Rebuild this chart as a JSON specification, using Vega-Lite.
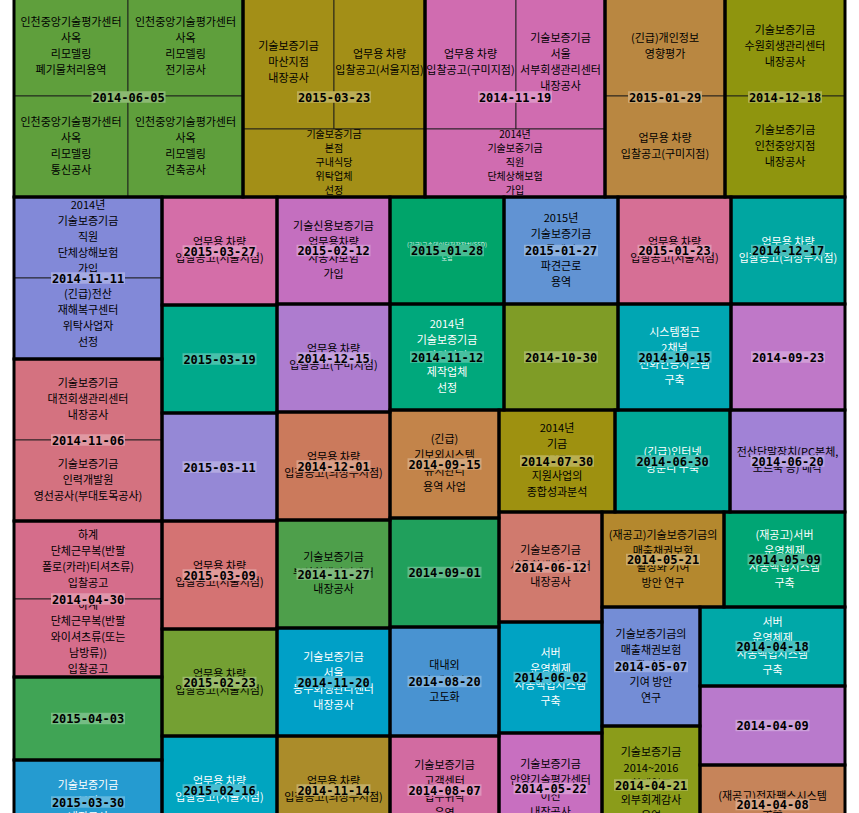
{
  "$schema": "https://vega.github.io/schema/vega-lite/v6.json",
  "width": 859,
  "height": 813,
  "padding": 0,
  "autosize": {"type": "none"},
  "background": "white",
  "config": {"view": {"stroke": null}},
  "datasets": {
    "groups": [
      {"date": "2014-06-05", "x0": 14, "x1": 243, "y0": -3, "y1": 197},
      {"date": "2015-03-23", "x0": 243, "x1": 425, "y0": -3, "y1": 197},
      {"date": "2014-11-19", "x0": 425, "x1": 605, "y0": -3, "y1": 197},
      {"date": "2015-01-29", "x0": 605, "x1": 725, "y0": -3, "y1": 197},
      {"date": "2014-12-18", "x0": 725, "x1": 845, "y0": -3, "y1": 197},
      {"date": "2014-11-11", "x0": 14, "x1": 162, "y0": 197, "y1": 359},
      {"date": "2014-11-06", "x0": 14, "x1": 162, "y0": 359, "y1": 521},
      {"date": "2014-04-30", "x0": 14, "x1": 162, "y0": 521, "y1": 677},
      {"date": "2015-04-03", "x0": 14, "x1": 162, "y0": 677, "y1": 760},
      {"date": "2015-03-30", "x0": 14, "x1": 162, "y0": 760, "y1": 844},
      {"date": "2015-03-27", "x0": 162, "x1": 277, "y0": 197, "y1": 305},
      {"date": "2015-03-19", "x0": 162, "x1": 277, "y0": 305, "y1": 413},
      {"date": "2015-03-11", "x0": 162, "x1": 277, "y0": 413, "y1": 521},
      {"date": "2015-03-09", "x0": 162, "x1": 277, "y0": 521, "y1": 629},
      {"date": "2015-02-23", "x0": 162, "x1": 277, "y0": 629, "y1": 736},
      {"date": "2015-02-16", "x0": 162, "x1": 277, "y0": 736, "y1": 844},
      {"date": "2015-02-12", "x0": 277, "x1": 390, "y0": 197, "y1": 304},
      {"date": "2014-12-15", "x0": 277, "x1": 390, "y0": 304, "y1": 412},
      {"date": "2014-12-01", "x0": 277, "x1": 390, "y0": 412, "y1": 520},
      {"date": "2014-11-27", "x0": 277, "x1": 390, "y0": 520, "y1": 628},
      {"date": "2014-11-20", "x0": 277, "x1": 390, "y0": 628, "y1": 736},
      {"date": "2014-11-14", "x0": 277, "x1": 390, "y0": 736, "y1": 844},
      {"date": "2015-01-28", "x0": 390, "x1": 504, "y0": 197, "y1": 304},
      {"date": "2014-11-12", "x0": 390, "x1": 504, "y0": 304, "y1": 410},
      {"date": "2015-01-27", "x0": 504, "x1": 618, "y0": 197, "y1": 304},
      {"date": "2014-10-30", "x0": 504, "x1": 618, "y0": 304, "y1": 410},
      {"date": "2015-01-23", "x0": 618, "x1": 731, "y0": 197, "y1": 304},
      {"date": "2014-10-15", "x0": 618, "x1": 731, "y0": 304, "y1": 410},
      {"date": "2014-12-17", "x0": 731, "x1": 845, "y0": 197, "y1": 304},
      {"date": "2014-09-23", "x0": 731, "x1": 845, "y0": 304, "y1": 410},
      {"date": "2014-09-15", "x0": 390, "x1": 499, "y0": 410, "y1": 518},
      {"date": "2014-09-01", "x0": 390, "x1": 499, "y0": 518, "y1": 627},
      {"date": "2014-08-20", "x0": 390, "x1": 499, "y0": 627, "y1": 736},
      {"date": "2014-08-07", "x0": 390, "x1": 499, "y0": 736, "y1": 844},
      {"date": "2014-07-30", "x0": 499, "x1": 615, "y0": 410, "y1": 512},
      {"date": "2014-06-30", "x0": 615, "x1": 730, "y0": 410, "y1": 512},
      {"date": "2014-06-20", "x0": 730, "x1": 845, "y0": 410, "y1": 512},
      {"date": "2014-06-12", "x0": 499, "x1": 602, "y0": 512, "y1": 622},
      {"date": "2014-06-02", "x0": 499, "x1": 602, "y0": 622, "y1": 733},
      {"date": "2014-05-22", "x0": 499, "x1": 602, "y0": 733, "y1": 844},
      {"date": "2014-05-21", "x0": 602, "x1": 724, "y0": 512, "y1": 607},
      {"date": "2014-05-09", "x0": 724, "x1": 845, "y0": 512, "y1": 607},
      {"date": "2014-05-07", "x0": 602, "x1": 700, "y0": 607, "y1": 726},
      {"date": "2014-04-21", "x0": 602, "x1": 700, "y0": 726, "y1": 844},
      {"date": "2014-04-18", "x0": 700, "x1": 845, "y0": 607, "y1": 686},
      {"date": "2014-04-09", "x0": 700, "x1": 845, "y0": 686, "y1": 765},
      {"date": "2014-04-08", "x0": 700, "x1": 845, "y0": 765, "y1": 844}
    ],
    "cells": [
      {"date": "2014-06-05", "x0": 14, "x1": 128, "y0": -3, "y1": 96, "label": "인천중앙기술평가센터\n사옥\n리모델링\n폐기물처리용역"},
      {"date": "2014-06-05", "x0": 128, "x1": 243, "y0": -3, "y1": 96, "label": "인천중앙기술평가센터\n사옥\n리모델링\n전기공사"},
      {"date": "2014-06-05", "x0": 14, "x1": 128, "y0": 96, "y1": 197, "label": "인천중앙기술평가센터\n사옥\n리모델링\n통신공사"},
      {"date": "2014-06-05", "x0": 128, "x1": 243, "y0": 96, "y1": 197, "label": "인천중앙기술평가센터\n사옥\n리모델링\n건축공사"},
      {"date": "2015-03-23", "x0": 243, "x1": 334, "y0": -3, "y1": 129, "label": "기술보증기금\n마산지점\n내장공사"},
      {"date": "2015-03-23", "x0": 334, "x1": 425, "y0": -3, "y1": 129, "label": "업무용 차량\n입찰공고(서울지점)"},
      {"date": "2015-03-23", "x0": 243, "x1": 425, "y0": 129, "y1": 197, "label": "기술보증기금\n본점\n구내식당\n위탁업체\n선정"},
      {"date": "2014-11-19", "x0": 425, "x1": 516, "y0": -3, "y1": 129, "label": "업무용 차량\n입찰공고(구미지점)"},
      {"date": "2014-11-19", "x0": 516, "x1": 605, "y0": -3, "y1": 129, "label": "기술보증기금\n서울\n서부회생관리센터\n내장공사"},
      {"date": "2014-11-19", "x0": 425, "x1": 605, "y0": 129, "y1": 197, "label": "2014년\n기술보증기금\n직원\n단체상해보험\n가입"},
      {"date": "2015-01-29", "x0": 605, "x1": 725, "y0": -3, "y1": 96, "label": "(긴급)개인정보\n영향평가"},
      {"date": "2015-01-29", "x0": 605, "x1": 725, "y0": 96, "y1": 197, "label": "업무용 차량\n입찰공고(구미지점)"},
      {"date": "2014-12-18", "x0": 725, "x1": 845, "y0": -3, "y1": 96, "label": "기술보증기금\n수원회생관리센터\n내장공사"},
      {"date": "2014-12-18", "x0": 725, "x1": 845, "y0": 96, "y1": 197, "label": "기술보증기금\n인천중앙지점\n내장공사"},
      {"date": "2014-11-11", "x0": 14, "x1": 162, "y0": 197, "y1": 278, "label": "2014년\n기술보증기금\n직원\n단체상해보험\n가입"},
      {"date": "2014-11-11", "x0": 14, "x1": 162, "y0": 278, "y1": 359, "label": "(긴급)전산\n재해복구센터\n위탁사업자\n선정"},
      {"date": "2014-11-06", "x0": 14, "x1": 162, "y0": 359, "y1": 440, "label": "기술보증기금\n대전회생관리센터\n내장공사"},
      {"date": "2014-11-06", "x0": 14, "x1": 162, "y0": 440, "y1": 521, "label": "기술보증기금\n인력개발원\n영선공사(부대토목공사)"},
      {"date": "2014-04-30", "x0": 14, "x1": 162, "y0": 521, "y1": 599, "label": "하계\n단체근무복(반팔\n폴로(카라)티셔츠류)\n입찰공고"},
      {"date": "2014-04-30", "x0": 14, "x1": 162, "y0": 599, "y1": 677, "label": "하계\n단체근무복(반팔\n와이셔츠류(또는\n남방류))\n입찰공고"},
      {"date": "2015-04-03", "x0": 14, "x1": 162, "y0": 677, "y1": 760, "label": ""},
      {"date": "2015-03-30", "x0": 14, "x1": 162, "y0": 760, "y1": 844, "label": "기술보증기금\n본점\n내장공사"},
      {"date": "2015-03-27", "x0": 162, "x1": 277, "y0": 197, "y1": 305, "label": "업무용 차량\n입찰공고(서울지점)"},
      {"date": "2015-03-19", "x0": 162, "x1": 277, "y0": 305, "y1": 413, "label": ""},
      {"date": "2015-03-11", "x0": 162, "x1": 277, "y0": 413, "y1": 521, "label": ""},
      {"date": "2015-03-09", "x0": 162, "x1": 277, "y0": 521, "y1": 629, "label": "업무용 차량\n입찰공고(서울지점)"},
      {"date": "2015-02-23", "x0": 162, "x1": 277, "y0": 629, "y1": 736, "label": "업무용 차량\n입찰공고(서울지점)"},
      {"date": "2015-02-16", "x0": 162, "x1": 277, "y0": 736, "y1": 844, "label": "업무용 차량\n입찰공고(서울지점)"},
      {"date": "2015-02-12", "x0": 277, "x1": 390, "y0": 197, "y1": 304, "label": "기술신용보증기금\n업무용차량\n자동차보험\n가입"},
      {"date": "2014-12-15", "x0": 277, "x1": 390, "y0": 304, "y1": 412, "label": "업무용 차량\n입찰공고(구미지점)"},
      {"date": "2014-12-01", "x0": 277, "x1": 390, "y0": 412, "y1": 520, "label": "업무용 차량\n입찰공고(의정부지점)"},
      {"date": "2014-11-27", "x0": 277, "x1": 390, "y0": 520, "y1": 628, "label": "기술보증기금\n부산회생관리센터\n내장공사"},
      {"date": "2014-11-20", "x0": 277, "x1": 390, "y0": 628, "y1": 736, "label": "기술보증기금\n서울\n동부회생관리센터\n내장공사"},
      {"date": "2014-11-14", "x0": 277, "x1": 390, "y0": 736, "y1": 844, "label": "업무용 차량\n입찰공고(의정부지점)"},
      {"date": "2015-01-28", "x0": 390, "x1": 504, "y0": 197, "y1": 304, "label": "(긴급)고속데이터저장장치(SSD)\n도입"},
      {"date": "2014-11-12", "x0": 390, "x1": 504, "y0": 304, "y1": 410, "label": "2014년\n기술보증기금\n다이어리\n제작업체\n선정"},
      {"date": "2015-01-27", "x0": 504, "x1": 618, "y0": 197, "y1": 304, "label": "2015년\n기술보증기금\n콜센터\n파견근로\n용역"},
      {"date": "2014-10-30", "x0": 504, "x1": 618, "y0": 304, "y1": 410, "label": ""},
      {"date": "2015-01-23", "x0": 618, "x1": 731, "y0": 197, "y1": 304, "label": "업무용 차량\n입찰공고(서울지점)"},
      {"date": "2014-10-15", "x0": 618, "x1": 731, "y0": 304, "y1": 410, "label": "시스템접근\n2채널\n전화인증시스템\n구축"},
      {"date": "2014-12-17", "x0": 731, "x1": 845, "y0": 197, "y1": 304, "label": "업무용 차량\n입찰공고(의정부지점)"},
      {"date": "2014-09-23", "x0": 731, "x1": 845, "y0": 304, "y1": 410, "label": ""},
      {"date": "2014-09-15", "x0": 390, "x1": 499, "y0": 410, "y1": 518, "label": "(긴급)\n기보외시스템\n유지관리\n용역 사업"},
      {"date": "2014-09-01", "x0": 390, "x1": 499, "y0": 518, "y1": 627, "label": ""},
      {"date": "2014-08-20", "x0": 390, "x1": 499, "y0": 627, "y1": 736, "label": "대내외\n홈페이지\n고도화"},
      {"date": "2014-08-07", "x0": 390, "x1": 499, "y0": 736, "y1": 844, "label": "기술보증기금\n고객센터\n업무위탁\n운영"},
      {"date": "2014-07-30", "x0": 499, "x1": 615, "y0": 410, "y1": 512, "label": "2014년\n기금\n보증\n지원사업의\n종합성과분석"},
      {"date": "2014-06-30", "x0": 615, "x1": 730, "y0": 410, "y1": 512, "label": "(긴급)인터넷\n망분리 구축"},
      {"date": "2014-06-20", "x0": 730, "x1": 845, "y0": 410, "y1": 512, "label": "전산단말장치(PC본체,\n노트북 등) 매각"},
      {"date": "2014-06-12", "x0": 499, "x1": 602, "y0": 512, "y1": 622, "label": "기술보증기금\n서울회생관리센터\n내장공사"},
      {"date": "2014-06-02", "x0": 499, "x1": 602, "y0": 622, "y1": 733, "label": "서버\n운영체제\n자동백업시스템\n구축"},
      {"date": "2014-05-22", "x0": 499, "x1": 602, "y0": 733, "y1": 844, "label": "기술보증기금\n안양기술평가센터\n이전\n내장공사"},
      {"date": "2014-05-21", "x0": 602, "x1": 724, "y0": 512, "y1": 607, "label": "(재공고)기술보증기금의\n매출채권보험\n활성화 기여\n방안 연구"},
      {"date": "2014-05-09", "x0": 724, "x1": 845, "y0": 512, "y1": 607, "label": "(재공고)서버\n운영체제\n자동백업시스템\n구축"},
      {"date": "2014-05-07", "x0": 602, "x1": 700, "y0": 607, "y1": 726, "label": "기술보증기금의\n매출채권보험\n활성화\n기여 방안\n연구"},
      {"date": "2014-04-21", "x0": 602, "x1": 700, "y0": 726, "y1": 844, "label": "기술보증기금\n2014~2016\n회계연도\n외부회계감사\n용역"},
      {"date": "2014-04-18", "x0": 700, "x1": 845, "y0": 607, "y1": 686, "label": "서버\n운영체제\n자동백업시스템\n구축"},
      {"date": "2014-04-09", "x0": 700, "x1": 845, "y0": 686, "y1": 765, "label": ""},
      {"date": "2014-04-08", "x0": 700, "x1": 845, "y0": 765, "y1": 844, "label": "(재공고)전자팩스시스템\n구축"}
    ]
  },
  "layer": [
    {
      "data": {"name": "cells"},
      "mark": {"type": "rect", "stroke": "#1a1a1a", "strokeWidth": 1, "strokeOpacity": 0.85},
      "encoding": {
        "x": {"field": "x0", "type": "quantitative", "scale": {"domain": [0, 859], "nice": false, "zero": false}, "axis": null},
        "x2": {"field": "x1"},
        "y": {"field": "y0", "type": "quantitative", "scale": {"domain": [0, 813], "nice": false, "zero": false, "reverse": true}, "axis": null},
        "y2": {"field": "y1"},
        "color": {
          "field": "date", "type": "nominal", "legend": null,
          "scale": {
            "domain": ["2014-06-05","2015-03-23","2014-11-19","2015-01-29","2014-12-18","2014-11-11","2014-11-06","2014-04-30","2015-04-03","2015-03-30","2015-03-27","2015-03-19","2015-03-11","2015-03-09","2015-02-23","2015-02-16","2015-02-12","2014-12-15","2014-12-01","2014-11-27","2014-11-20","2014-11-14","2015-01-28","2014-11-12","2015-01-27","2014-10-30","2015-01-23","2014-10-15","2014-12-17","2014-09-23","2014-09-15","2014-09-01","2014-08-20","2014-08-07","2014-07-30","2014-06-30","2014-06-20","2014-06-12","2014-06-02","2014-05-22","2014-05-21","2014-05-09","2014-05-07","2014-04-21","2014-04-18","2014-04-09","2014-04-08"],
            "range": ["#5f9f3c","#a38f17","#d06cb0","#b98741","#8f950e","#8289d8","#d47280","#d56d8b","#40a455","#259bd0","#d46ea8","#00a98b","#9588d6","#d47373","#74a033","#00a5c0","#c46fbf","#ae7ccf","#cb7a5c","#4e9f4b","#00a0c7","#ab8c2a","#00a46a","#00a87c","#6193d3","#7f9c26","#d66f95","#00a6b3","#00a6a1","#bf78c8","#c3844a","#20a05c","#4993d1","#d26ba1","#9e9110","#00a898","#a182d6","#d07a6e","#00a3c3","#c86fc0","#b4882e","#00a574","#748dd6","#8b9c1a","#00a8a8","#b97acc","#c6845a"]
          }
        }
      }
    },
    {
      "data": {"name": "groups"},
      "mark": {"type": "rect", "fillOpacity": 0, "stroke": "black", "strokeWidth": 3},
      "encoding": {
        "x": {"field": "x0", "type": "quantitative", "scale": {"domain": [0, 859], "nice": false, "zero": false}, "axis": null},
        "x2": {"field": "x1"},
        "y": {"field": "y0", "type": "quantitative", "scale": {"domain": [0, 813], "nice": false, "zero": false, "reverse": true}, "axis": null},
        "y2": {"field": "y1"}
      }
    },
    {
      "data": {"name": "cells"},
      "transform": [
        {"filter": "datum.date != '2015-01-28' && (datum.y1 - datum.y0) >= 70 && length(split(datum.label, '\\n')) == 2"},
        {"fold": ["x0", "x1"], "as": ["xk", "xv"]},
        {"fold": ["y0", "y1"], "as": ["yk", "yv"]}
      ],
      "mark": {"type": "text", "font": "Noto Sans CJK KR", "fontSize": 11, "lineHeight": 16, "lineBreak": "\n", "align": "center", "baseline": "middle", "dy": -8},
      "encoding": {
        "x": {"aggregate": "mean", "field": "xv", "type": "quantitative", "scale": {"domain": [0, 859], "nice": false, "zero": false}, "axis": null},
        "y": {"aggregate": "mean", "field": "yv", "type": "quantitative", "scale": {"domain": [0, 813], "nice": false, "zero": false, "reverse": true}, "axis": null},
        "detail": {"field": "date", "type": "nominal"},
        "text": {"field": "label", "type": "nominal"},
        "color": {
          "condition": {"test": "indexof(['2014-11-12','2014-10-15','2014-12-17','2014-06-30','2014-05-09','2014-04-18','2014-06-02','2014-11-20','2015-02-16','2015-03-30'], datum.date) >= 0", "value": "white"},
          "value": "black"
        }
      }
    },
    {
      "data": {"name": "cells"},
      "transform": [
        {"filter": "datum.date != '2015-01-28' && (datum.y1 - datum.y0) >= 70 && length(split(datum.label, '\\n')) == 3"},
        {"fold": ["x0", "x1"], "as": ["xk", "xv"]},
        {"fold": ["y0", "y1"], "as": ["yk", "yv"]}
      ],
      "mark": {"type": "text", "font": "Noto Sans CJK KR", "fontSize": 11, "lineHeight": 16, "lineBreak": "\n", "align": "center", "baseline": "middle", "dy": -16},
      "encoding": {
        "x": {"aggregate": "mean", "field": "xv", "type": "quantitative", "scale": {"domain": [0, 859], "nice": false, "zero": false}, "axis": null},
        "y": {"aggregate": "mean", "field": "yv", "type": "quantitative", "scale": {"domain": [0, 813], "nice": false, "zero": false, "reverse": true}, "axis": null},
        "detail": {"field": "date", "type": "nominal"},
        "text": {"field": "label", "type": "nominal"},
        "color": {
          "condition": {"test": "indexof(['2014-11-12','2014-10-15','2014-12-17','2014-06-30','2014-05-09','2014-04-18','2014-06-02','2014-11-20','2015-02-16','2015-03-30'], datum.date) >= 0", "value": "white"},
          "value": "black"
        }
      }
    },
    {
      "data": {"name": "cells"},
      "transform": [
        {"filter": "datum.date != '2015-01-28' && (datum.y1 - datum.y0) >= 70 && length(split(datum.label, '\\n')) == 4"},
        {"fold": ["x0", "x1"], "as": ["xk", "xv"]},
        {"fold": ["y0", "y1"], "as": ["yk", "yv"]}
      ],
      "mark": {"type": "text", "font": "Noto Sans CJK KR", "fontSize": 11, "lineHeight": 16, "lineBreak": "\n", "align": "center", "baseline": "middle", "dy": -24},
      "encoding": {
        "x": {"aggregate": "mean", "field": "xv", "type": "quantitative", "scale": {"domain": [0, 859], "nice": false, "zero": false}, "axis": null},
        "y": {"aggregate": "mean", "field": "yv", "type": "quantitative", "scale": {"domain": [0, 813], "nice": false, "zero": false, "reverse": true}, "axis": null},
        "detail": {"field": "date", "type": "nominal"},
        "text": {"field": "label", "type": "nominal"},
        "color": {
          "condition": {"test": "indexof(['2014-11-12','2014-10-15','2014-12-17','2014-06-30','2014-05-09','2014-04-18','2014-06-02','2014-11-20','2015-02-16','2015-03-30'], datum.date) >= 0", "value": "white"},
          "value": "black"
        }
      }
    },
    {
      "data": {"name": "cells"},
      "transform": [
        {"filter": "datum.date != '2015-01-28' && (datum.y1 - datum.y0) >= 70 && length(split(datum.label, '\\n')) == 5"},
        {"fold": ["x0", "x1"], "as": ["xk", "xv"]},
        {"fold": ["y0", "y1"], "as": ["yk", "yv"]}
      ],
      "mark": {"type": "text", "font": "Noto Sans CJK KR", "fontSize": 11, "lineHeight": 16, "lineBreak": "\n", "align": "center", "baseline": "middle", "dy": -32},
      "encoding": {
        "x": {"aggregate": "mean", "field": "xv", "type": "quantitative", "scale": {"domain": [0, 859], "nice": false, "zero": false}, "axis": null},
        "y": {"aggregate": "mean", "field": "yv", "type": "quantitative", "scale": {"domain": [0, 813], "nice": false, "zero": false, "reverse": true}, "axis": null},
        "detail": {"field": "date", "type": "nominal"},
        "text": {"field": "label", "type": "nominal"},
        "color": {
          "condition": {"test": "indexof(['2014-11-12','2014-10-15','2014-12-17','2014-06-30','2014-05-09','2014-04-18','2014-06-02','2014-11-20','2015-02-16','2015-03-30'], datum.date) >= 0", "value": "white"},
          "value": "black"
        }
      }
    },
    {
      "data": {"name": "cells"},
      "transform": [
        {"filter": "datum.date != '2015-01-28' && (datum.y1 - datum.y0) < 70"},
        {"fold": ["x0", "x1"], "as": ["xk", "xv"]},
        {"fold": ["y0", "y1"], "as": ["yk", "yv"]}
      ],
      "mark": {"type": "text", "font": "Noto Sans CJK KR", "fontSize": 10, "lineHeight": 14, "lineBreak": "\n", "align": "center", "baseline": "middle", "color": "black", "dy": -28},
      "encoding": {
        "x": {"aggregate": "mean", "field": "xv", "type": "quantitative", "scale": {"domain": [0, 859], "nice": false, "zero": false}, "axis": null},
        "y": {"aggregate": "mean", "field": "yv", "type": "quantitative", "scale": {"domain": [0, 813], "nice": false, "zero": false, "reverse": true}, "axis": null},
        "detail": {"field": "date", "type": "nominal"},
        "text": {"field": "label", "type": "nominal"}
      }
    },
    {
      "data": {"name": "cells"},
      "transform": [
        {"filter": "datum.date == '2015-01-28'"},
        {"fold": ["x0", "x1"], "as": ["xk", "xv"]},
        {"fold": ["y0", "y1"], "as": ["yk", "yv"]}
      ],
      "mark": {"type": "text", "font": "Noto Sans CJK KR", "fontSize": 6, "lineHeight": 13, "lineBreak": "\n", "align": "center", "baseline": "middle", "color": "white", "opacity": 0.85, "dy": -6},
      "encoding": {
        "x": {"aggregate": "mean", "field": "xv", "type": "quantitative", "scale": {"domain": [0, 859], "nice": false, "zero": false}, "axis": null},
        "y": {"aggregate": "mean", "field": "yv", "type": "quantitative", "scale": {"domain": [0, 813], "nice": false, "zero": false, "reverse": true}, "axis": null},
        "detail": {"field": "date", "type": "nominal"},
        "text": {"field": "label", "type": "nominal"}
      }
    },
    {
      "data": {"name": "groups"},
      "transform": [
        {"fold": ["x0", "x1"], "as": ["xk", "xv"]},
        {"fold": ["y0", "y1"], "as": ["yk", "yv"]}
      ],
      "mark": {"type": "point", "shape": "M-1,-0.155H1V0.155H-1Z", "filled": true, "size": 5476, "opacity": 1, "strokeWidth": 0},
      "encoding": {
        "x": {"aggregate": "mean", "field": "xv", "type": "quantitative", "scale": {"domain": [0, 859], "nice": false, "zero": false}, "axis": null},
        "y": {"aggregate": "mean", "field": "yv", "type": "quantitative", "scale": {"domain": [0, 813], "nice": false, "zero": false, "reverse": true}, "axis": null},
        "color": {"field": "date", "type": "nominal", "legend": null}
      }
    },
    {
      "data": {"name": "groups"},
      "transform": [
        {"fold": ["x0", "x1"], "as": ["xk", "xv"]},
        {"fold": ["y0", "y1"], "as": ["yk", "yv"]}
      ],
      "mark": {"type": "point", "shape": "M-1,-0.155H1V0.155H-1Z", "filled": true, "size": 5476, "opacity": 0.28, "color": "white", "strokeWidth": 0},
      "encoding": {
        "x": {"aggregate": "mean", "field": "xv", "type": "quantitative", "scale": {"domain": [0, 859], "nice": false, "zero": false}, "axis": null},
        "y": {"aggregate": "mean", "field": "yv", "type": "quantitative", "scale": {"domain": [0, 813], "nice": false, "zero": false, "reverse": true}, "axis": null},
        "detail": {"field": "date", "type": "nominal"}
      }
    },
    {
      "data": {"name": "groups"},
      "transform": [
        {"fold": ["x0", "x1"], "as": ["xk", "xv"]},
        {"fold": ["y0", "y1"], "as": ["yk", "yv"]}
      ],
      "mark": {"type": "text", "font": "DejaVu Sans Mono", "fontWeight": "bold", "fontSize": 12, "align": "center", "baseline": "middle", "color": "black", "dy": 0.5},
      "encoding": {
        "x": {"aggregate": "mean", "field": "xv", "type": "quantitative", "scale": {"domain": [0, 859], "nice": false, "zero": false}, "axis": null},
        "y": {"aggregate": "mean", "field": "yv", "type": "quantitative", "scale": {"domain": [0, 813], "nice": false, "zero": false, "reverse": true}, "axis": null},
        "text": {"field": "date", "type": "nominal"}
      }
    }
  ]
}
